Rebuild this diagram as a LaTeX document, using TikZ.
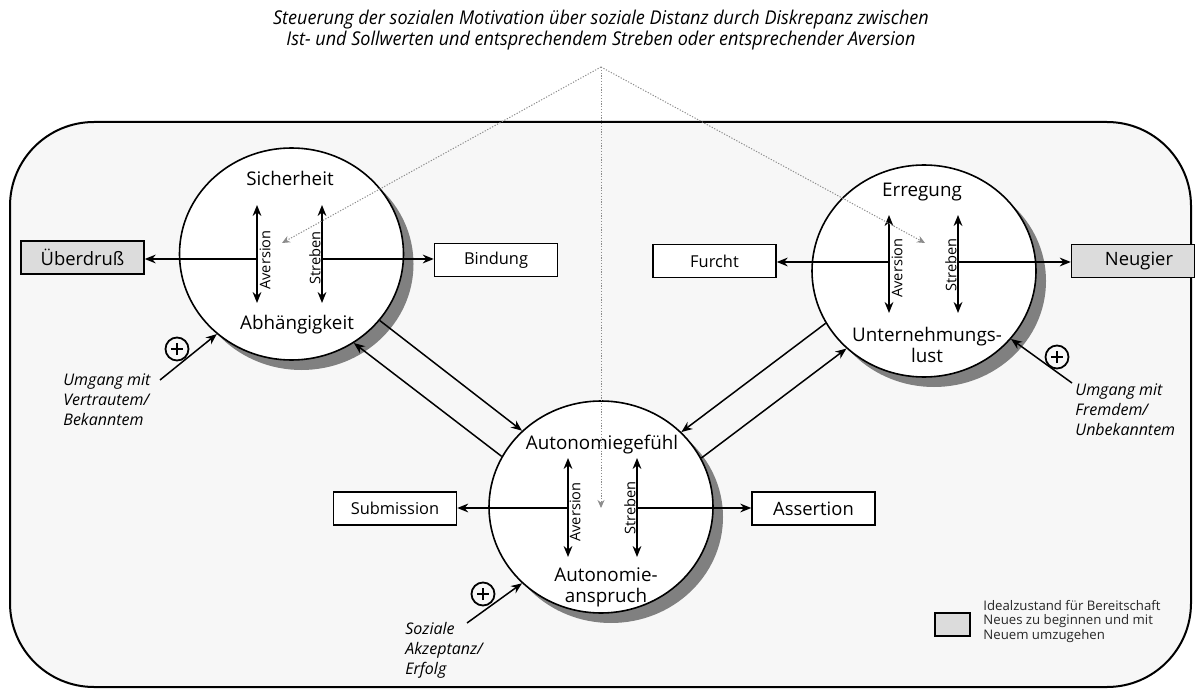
\documentclass[tikz,border=0pt]{standalone}
\usepackage{fontspec}
\setmainfont{Open Sans}
\newfontfamily\titlefont[FakeStretch=0.95]{Open Sans}
\usetikzlibrary{arrows.meta,shadows,shapes.geometric}
\definecolor{panelfill}{HTML}{F7F7F7}
\definecolor{idealgray}{HTML}{DCDCDC}
\definecolor{shadegray}{HTML}{808080}
\definecolor{guidegray}{HTML}{8C8C8C}

\begin{document}
\begin{tikzpicture}[x=0.5pt,y=-0.5pt,
  arr/.style={line width=0.75pt,-{Stealth[length=5.5pt,width=4.4pt]}},
  darr/.style={line width=0.75pt,{Stealth[length=5.5pt,width=4.4pt]}-{Stealth[length=5.5pt,width=4.4pt]}},
  guide/.style={guidegray,line width=0.5pt,dash pattern=on 0.6pt off 0.8pt,-{Stealth[length=4pt,width=3.5pt]}},
  zone/.style={ellipse,draw,fill=white,line width=0.8pt,minimum width=112pt,minimum height=106pt,inner sep=0pt,
     drop shadow={shadow xshift=5pt,shadow yshift=-5pt,fill=shadegray,opacity=1}},
  state/.style={font=\fontsize{9.4}{10.5}\selectfont,inner sep=0pt,align=center},
  outcome/.style={draw,line width=0.75pt,fill=white,minimum width=61.5pt,minimum height=16.5pt,inner sep=0pt,font=\fontsize{8.2}{10}\selectfont},
  strong/.style={outcome,font=\fontsize{9.2}{10}\selectfont},
  ideal/.style={strong,fill=idealgray},
  axis/.style={font=\fontsize{7.3}{8}\selectfont,inner sep=0pt,rotate=90},
  source/.style={font=\fontsize{8}{10}\selectfont\itshape,align=left,anchor=north west,inner sep=0pt},
  boost/.style={circle,draw,line width=0.9pt,minimum size=11.5pt,inner sep=0pt,
     path picture={\draw[line width=1.4pt]
       ([xshift=-3pt]path picture bounding box.center) -- ([xshift=3pt]path picture bounding box.center)
       ([yshift=-3pt]path picture bounding box.center) -- ([yshift=3pt]path picture bounding box.center);}},
]
\useasboundingbox (0,0) rectangle (1203,689);

% panel
\draw[line width=1pt,fill=panelfill,rounded corners=42pt] (10,122) rectangle (1191,687);

% heading
\node[font=\titlefont\itshape\fontsize{9.5}{10.5}\selectfont,align=center,inner sep=0pt] (title) at (601,30)
  {Steuerung der sozialen Motivation über soziale Distanz durch Diskrepanz zwischen\\
   Ist- und Sollwerten und entsprechendem Streben oder entsprechender Aversion};
\coordinate (apex) at (601,67);

% three motive systems
\node[zone] (L) at (291.5,254) {};
\node[zone] (R) at (924,271) {};
\node[zone] (B) at (601,507) {};

% outcome boxes
\node[ideal]   (ueber)  at (82.5,257.5) {Überdruß};
\node[outcome] (bind)   at (496,260)   {Bindung};
\node[outcome] (furcht) at (714.5,261) {Furcht};
\node[ideal]   (neu)    at (1133,261)  {\hspace*{6pt}Neugier};
\node[outcome] (sub)    at (395,508.5) {Submission};
\node[strong]  (ass)    at (813.5,508.5) {Assertion};

% --- Sicherheit / Abhängigkeit
\node[state,anchor=base] (Lt) at (290,186) {Sicherheit};
\node[state,anchor=base] (Lb) at (297,329) {Abhängigkeit};
\coordinate (La1) at (257,205); \coordinate (La2) at (257,303); \coordinate (Lam) at (257,259);
\coordinate (Ls1) at (322,205); \coordinate (Ls2) at (322,303); \coordinate (Lsm) at (322,259);
\draw[darr] (La1) -- (La2);
\draw[darr] (Ls1) -- (Ls2);
\node[axis] (Lav) at (265,260) {Aversion};
\node[axis] (Lst) at (315,258) {Streben};
\draw[arr] (Lam) -- (Lam -| ueber.east);
\draw[arr] (Lsm) -- (Lsm -| bind.west);

% --- Erregung / Unternehmungslust
\node[state,anchor=base] (Rt) at (922,197) {Erregung};
\node[state] (Rb) at (927,345) {Unternehmungs-\\lust};
\coordinate (Ra1) at (889,215); \coordinate (Ra2) at (889,313); \coordinate (Ram) at (889,262);
\coordinate (Rs1) at (958,215); \coordinate (Rs2) at (958,313); \coordinate (Rsm) at (958,262);
\draw[darr] (Ra1) -- (Ra2);
\draw[darr] (Rs1) -- (Rs2);
\node[axis] (Rav) at (897,268) {Aversion};
\node[axis] (Rst) at (951,265) {Streben};
\draw[arr] (Ram) -- (Ram -| furcht.east);
\draw[arr] (Rsm) -- (Rsm -| neu.west);

% --- Autonomiegefühl / Autonomieanspruch
\node[state,anchor=base] (Bt) at (602,449) {Autonomiegefühl};
\node[state] (Bb) at (606,587) {Autonomie-\\anspruch};
\coordinate (Ba1) at (568,458); \coordinate (Ba2) at (568,557); \coordinate (Bam) at (568,508);
\coordinate (Bs1) at (637,458); \coordinate (Bs2) at (637,557); \coordinate (Bsm) at (637,508);
\draw[darr] (Ba1) -- (Ba2);
\draw[darr] (Bs1) -- (Bs2);
\node[axis] (Bav) at (575,512) {Aversion};
\node[axis] (Bst) at (630,508) {Streben};
\draw[arr] (Bam) -- (Bam -| sub.east);
\draw[arr] (Bsm) -- (Bsm -| ass.west);

% couplings between the systems
\draw[arr] (L.-37) -- (B.136);
\draw[arr] (B.153) -- (L.-55);
\draw[arr] (R.-152) -- (B.43);
\draw[arr] (B.26) -- (R.-135);

% regulation by social distance
\coordinate (gL) at (282,243);
\coordinate (gR) at (925,243);
\coordinate (gB) at (601,508);
\draw[guide] (apex) -- (gL);
\draw[guide] (apex) -- (gR);
\draw[guide] (apex) -- (gB);

% positive inputs
\node[source] (srcL) at (63,373) {Umgang mit\\Vertrautem/\\Bekanntem};
\node[source] (srcR) at (1075,383) {Umgang mit\\Fremdem/\\Unbekanntem};
\node[source] (srcB) at (405,622) {Soziale\\Akzeptanz/\\Erfolg};
\coordinate (inL) at (160,380);
\coordinate (inR) at (1072,383);
\coordinate (inB) at (467,623);
\draw[arr] (inL) -- (L.-133);
\draw[arr] (inR) -- (R.-38);
\draw[arr] (inB) -- (B.-136);
\node[boost] (pL) at (177,349) {};
\node[boost] (pR) at (1057,357) {};
\node[boost] (pB) at (483,594) {};

% key
\node[draw,fill=idealgray,line width=0.75pt,minimum width=17.5pt,minimum height=11.5pt,inner sep=0pt] (key) at (952.5,624.5) {};
\node[font=\fontsize{6.6}{7.2}\selectfont,text=black!85,align=left,anchor=north west,inner sep=0pt] (keytext) at (983,600)
  {Idealzustand für Bereitschaft\\Neues zu beginnen und mit\\Neuem umzugehen};
\end{tikzpicture}
\end{document}
